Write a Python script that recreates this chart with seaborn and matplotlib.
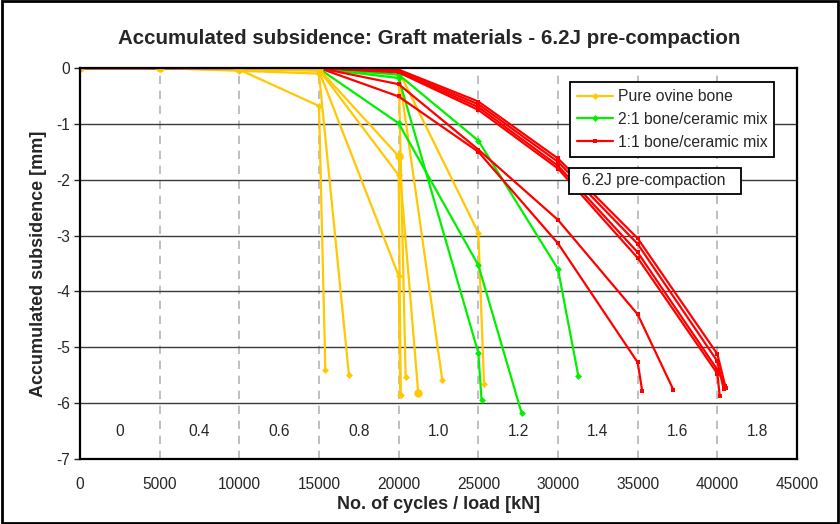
import matplotlib
matplotlib.use("Agg")
import matplotlib.pyplot as plt
import seaborn as sns
import pandas as pd

# ---- data: cycles vs accumulated subsidence per specimen ----
materials = ["Pure ovine bone", "2:1 bone/ceramic mix", "1:1 bone/ceramic mix"]

bone_cycles = [
    [0, 5000, 10000, 15000, 15400],
    [0, 5000, 10000, 15000, 16880],
    [0, 5000, 10000, 15000, 20000, 20130],
    [0, 5000, 10000, 15000, 20000, 20100],
    [0, 5000, 10000, 15000, 20000, 20440],
    [0, 5000, 10000, 15000, 20000, 21230],
    [0, 5000, 10000, 15000, 20000, 22740],
    [0, 5000, 10000, 15000, 20000, 25000, 25360],
]
bone_subs = [
    [0, -0.01, -0.03, -0.68, -5.41],
    [0, 0.0, -0.05, -0.10, -5.50],
    [0, 0.0, -0.02, -0.03, -1.92, -5.86],
    [0, 0.0, -0.02, -0.05, -3.72, -5.85],
    [0, 0.0, -0.01, -0.02, -0.05, -5.54],
    [0, 0.0, -0.01, -0.02, -1.58, -5.82],
    [0, 0.0, -0.01, -0.02, -0.06, -5.59],
    [0, 0.0, -0.01, -0.02, -0.05, -2.95, -5.66],
]
# specimens plotted with the larger round markers
bone_large_marker = [5]

mix21_cycles = [
    [0, 5000, 10000, 15000, 20000, 25000, 25200],
    [0, 5000, 10000, 15000, 20000, 25000, 27720],
    [0, 5000, 10000, 15000, 20000, 25000, 30000, 31280],
]
mix21_subs = [
    [0, 0.0, 0.0, -0.01, -0.18, -5.10, -5.94],
    [0, 0.0, 0.0, -0.01, -0.99, -3.53, -6.18],
    [0, 0.0, 0.0, -0.01, -0.12, -1.30, -3.60, -5.52],
]

mix11_cycles = [
    [0, 5000, 10000, 15000, 20000, 25000, 30000, 35000, 40000, 40500],
    [0, 5000, 10000, 15000, 20000, 25000, 30000, 35000, 40000, 40400],
    [0, 5000, 10000, 15000, 20000, 25000, 30000, 35000, 40000, 40550],
    [0, 5000, 10000, 15000, 20000, 25000, 30000, 35000, 40000, 40150],
    [0, 5000, 10000, 15000, 20000, 25000, 30000, 35000, 37240],
    [0, 5000, 10000, 15000, 20000, 25000, 30000, 35000, 35290],
]
mix11_subs = [
    [0, 0.0, 0.0, 0.0, -0.03, -0.60, -1.62, -3.05, -5.12, -5.70],
    [0, 0.0, 0.0, 0.0, -0.05, -0.65, -1.68, -3.15, -5.25, -5.75],
    [0, 0.0, 0.0, 0.0, -0.07, -0.70, -1.75, -3.30, -5.40, -5.72],
    [0, 0.0, 0.0, 0.0, -0.08, -0.75, -1.80, -3.40, -5.47, -5.87],
    [0, 0.0, 0.0, 0.0, -0.29, -1.46, -2.72, -4.41, -5.76],
    [0, 0.0, 0.0, 0.0, -0.51, -1.50, -3.14, -5.27, -5.79],
]

load_labels = ["0", "0.4", "0.6", "0.8", "1.0", "1.2", "1.4", "1.6", "1.8"]
load_step_centres = [2500, 7500, 12500, 17500, 22500, 27500, 32500, 37500, 42500]

x_ticks = [0, 5000, 10000, 15000, 20000, 25000, 30000, 35000, 40000, 45000]
y_ticks = [0, -1, -2, -3, -4, -5, -6, -7]

# ---- long-form table ----
rows = []
for mat, cyc_sets, sub_sets in zip(materials,
                                   [bone_cycles, mix21_cycles, mix11_cycles],
                                   [bone_subs, mix21_subs, mix11_subs]):
    for i, (cs, ss) in enumerate(zip(cyc_sets, sub_sets)):
        big = mat == materials[0] and i in bone_large_marker
        for order, (c, s) in enumerate(zip(cs, ss)):
            rows.append({"material": mat, "specimen": f"{mat}-{i}", "big": big,
                         "order": order, "cycles": c, "subsidence": s})
df = pd.DataFrame(rows)

palette = {"Pure ovine bone": "#FFC800",
           "2:1 bone/ceramic mix": "#00F000",
           "1:1 bone/ceramic mix": "#FF0000"}
markers = {"Pure ovine bone": "D",
           "2:1 bone/ceramic mix": "D",
           "1:1 bone/ceramic mix": "s"}

sns.set_style("white")
plt.rcParams["font.family"] = ["Liberation Sans", "DejaVu Sans"]

fig = plt.figure(figsize=(8.4, 5.24), dpi=100)
ax = fig.add_axes([80 / 840, 1 - 459 / 524, 717 / 840, 391 / 524])

# gridlines under the data
for xv in x_ticks[1:-1]:
    ax.axvline(xv, color="#b4b4b4", lw=1.2, ls=(0, (5, 4)), zorder=0)
for yv in y_ticks[1:-1]:
    ax.axhline(yv, color="#3a3a3a", lw=1.0, zorder=0)

small = df[~df["big"]]
large = df[df["big"]]
sns.lineplot(data=small, x="cycles", y="subsidence", hue="material",
             style="material", units="specimen", estimator=None, sort=False,
             palette=palette, markers=markers, dashes=False,
             markersize=3.5, markeredgewidth=0, lw=1.6, ax=ax, legend=False)
sns.lineplot(data=large, x="cycles", y="subsidence", hue="material",
             units="specimen", estimator=None, sort=False, palette=palette,
             marker="o", markersize=6, markeredgewidth=0, lw=1.6, ax=ax,
             legend=False)

ax.set_xlim(0, 45000)
ax.set_ylim(-7, 0)
ax.set_xticks(x_ticks)
ax.set_yticks(y_ticks)
ax.set_xticklabels([str(v) for v in x_ticks], fontsize=11.2)
ax.set_yticklabels([str(v) for v in y_ticks], fontsize=11.2)
ax.tick_params(axis="x", length=0, pad=13)
ax.tick_params(axis="y", length=4, width=1, direction="out", left=True, pad=3)

for sp in ax.spines.values():
    sp.set_visible(True)
    sp.set_color("black")
    sp.set_linewidth(1.6)

ax.set_xlabel("No. of cycles / load [kN]", fontsize=13, fontweight="bold", labelpad=3)
ax.set_ylabel("Accumulated subsidence [mm]", fontsize=13, fontweight="bold", labelpad=7)
ax.set_title("Accumulated subsidence: Graft materials - 6.2J pre-compaction",
             fontsize=14.8, fontweight="bold", pad=17, x=0.487)

# load level of each 5000-cycle block
for lbl, xc in zip(load_labels, load_step_centres):
    ax.text(xc, -6.5, lbl, ha="center", va="center", fontsize=11.2)

# legend
handles = [plt.Line2D([], [], color=palette[m], lw=1.6, marker=markers[m],
                      markersize=3.5, markeredgewidth=0) for m in materials]
leg = ax.legend(handles, materials, loc="upper left",
                bbox_to_anchor=(0.683, 0.964), borderaxespad=0,
                fontsize=11.3, frameon=True,
                fancybox=False, edgecolor="black", framealpha=1,
                handlelength=2.3, handletextpad=0.3, borderpad=0.45,
                labelspacing=0.5)
leg.get_frame().set_linewidth(1.3)

# annotation box with the pre-compaction energy
ax.add_patch(plt.Rectangle((0.682, 0.678), 0.240, 0.066, transform=ax.transAxes,
                           fc="white", ec="black", lw=1.3, zorder=5))
ax.text(0.8006, 0.711, "6.2J pre-compaction", transform=ax.transAxes,
        ha="center", va="center", fontsize=11.4, zorder=6)

# outer frame around the whole figure
fig.patches.append(plt.Rectangle((0.002, 0.002), 0.996, 0.996, transform=fig.transFigure,
                                 fill=False, ec="black", lw=2))

fig.savefig("out.png", dpi=100)
